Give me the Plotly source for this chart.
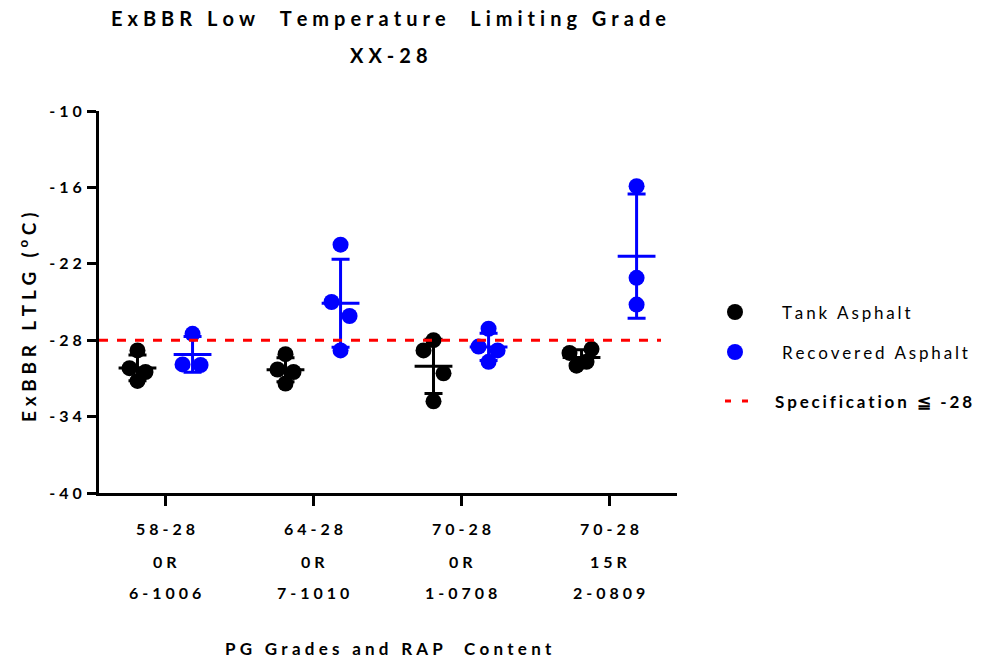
import numpy as np
import plotly.graph_objects as go

# ---------------- data ----------------
pg_grades = ["58-28", "64-28", "70-28", "70-28"]
rap_content = ["0R", "0R", "0R", "15R"]
sample_ids = ["6-1006", "7-1010", "1-0708", "2-0809"]

tank_values = [
    [-28.8, -30.2, -30.5, -31.2],
    [-29.1, -30.3, -30.5, -31.4],
    [-28.0, -28.8, -30.6, -32.8],
    [-29.0, -28.7, -30.0, -29.7],
]
recovered_values = [
    [-27.5, -29.9, -29.95],
    [-20.5, -25.0, -26.1, -28.8],
    [-27.1, -28.5, -28.8, -29.7],
    [-15.9, -23.1, -25.2],
]
spec_limit = -28
y_ticks = [-10, -16, -22, -28, -34, -40]

# ---------------- style / layout constants ----------------
FONT = "Lato"
BLUE = "#0000FF"
BLACK = "#000000"
RED = "#FF0000"
GROUP_PX = 148.0          # pixel distance between group centres
SIDE = 0.186              # column offset from group centre (group units)
# horizontal scatter-dot jitter, in pixels, per point (style only)
tank_jitter = [[0, -8, 8, 0], [0, -8, 8, 0], [0, -10, 10, 0], [-12, 10, -5, 5]]
rec_jitter = [[0, -10, 8], [0, -9, 9, 0], [0, -10, 9, 0], [0, 0, 0]]

SP4 = "\u2005"
SP6 = "\u2006"


def spaced(s, sp=SP4):
    return sp.join(list(s))


def points_xy(values, jitter, side):
    xs, ys = [], []
    for g, (vals, jit) in enumerate(zip(values, jitter)):
        for v, j in zip(vals, jit):
            xs.append(g + side + j / GROUP_PX)
            ys.append(v)
    return xs, ys


def mean_sd(values, side):
    xs = [g + side for g in range(len(values))]
    means = [float(np.mean(v)) for v in values]
    sds = [float(np.std(v, ddof=1)) for v in values]
    return xs, means, sds


fig = go.Figure()

# mean + SD bars
for values, side, color in [(tank_values, -SIDE, BLACK), (recovered_values, SIDE, BLUE)]:
    xs, means, sds = mean_sd(values, side)
    fig.add_trace(go.Scatter(
        x=xs, y=means, mode="markers", showlegend=False, hoverinfo="skip",
        marker=dict(symbol="line-ew", size=27, color=color,
                    line=dict(color=color, width=3)),
        error_y=dict(type="data", array=sds, symmetric=True,
                     thickness=3, width=9, color=color),
    ))

# individual points
for values, jitter, side, color, name in [
    (tank_values, tank_jitter, -SIDE, BLACK, "Tank Asphalt"),
    (recovered_values, rec_jitter, SIDE, BLUE, "Recovered Asphalt"),
]:
    xs, ys = points_xy(values, jitter, side)
    fig.add_trace(go.Scatter(
        x=xs, y=ys, mode="markers", name=name, showlegend=False,
        marker=dict(symbol="circle", size=16, color=color, line=dict(width=0)),
    ))

X_MIN, X_MAX = -0.446, 3.459
SPEC_END = 3.351
fig.add_trace(go.Scatter(
    x=[X_MIN, SPEC_END], y=[spec_limit, spec_limit], mode="lines",
    showlegend=False, hoverinfo="skip",
    line=dict(color=RED, width=3, dash="9px,9px"),
))

ann = []
# title
ann.append(dict(text=spaced("ExBBR Low  Temperature  Limiting Grade"),
                x=0.5, y=1, xref="paper", yref="paper", yshift=93,
                showarrow=False, xanchor="center", yanchor="middle",
                font=dict(family=FONT, size=20, color=BLACK, weight="bold")))
ann.append(dict(text=spaced("XX-28"),
                x=0.5, y=1, xref="paper", yref="paper", yshift=56,
                showarrow=False, xanchor="center", yanchor="middle",
                font=dict(family=FONT, size=20, color=BLACK, weight="bold")))
# category labels
for i in range(len(pg_grades)):
    for txt, dy in [(pg_grades[i], -35), (rap_content[i], -68), (sample_ids[i], -99)]:
        ann.append(dict(text=spaced(txt), x=i, y=0, xref="x", yref="paper",
                        yshift=dy, showarrow=False, xanchor="center", yanchor="middle",
                        font=dict(family=FONT, size=16, color=BLACK, weight="bold")))
# x title
ann.append(dict(text=spaced("PG Grades and RAP  Content"), x=0.5, y=0,
                xref="paper", yref="paper", yshift=-155, showarrow=False,
                xanchor="center", yanchor="middle",
                font=dict(family=FONT, size=17, color=BLACK, weight="bold")))
# y title
ann.append(dict(text=spaced("ExBBR LTLG (") + SP4 + "<sup>o</sup>" + SP4 + spaced("C)"),
                x=0, y=(493 - 318) / 382, xref="paper", yref="paper", xshift=-72,
                textangle=-90, showarrow=False, xanchor="center", yanchor="middle",
                font=dict(family=FONT, size=19, color=BLACK, weight="bold")))

# legend (drawn manually to match item spacing)
PLOT_L, PLOT_W, PLOT_B, PLOT_H = 99, 578, 493, 382


def px_x(px):
    return (px - PLOT_L) / PLOT_W


def px_y(py):
    return (PLOT_B - py) / PLOT_H


shapes = []
for cy, color in [(312, BLACK), (352, BLUE)]:
    shapes.append(dict(type="circle", xref="paper", yref="paper",
                       xsizemode="pixel", ysizemode="pixel",
                       xanchor=px_x(735), yanchor=px_y(cy),
                       x0=-8, x1=8, y0=-8, y1=8,
                       fillcolor=color, line=dict(width=0)))
shapes.append(dict(type="line", xref="paper", yref="paper",
                   x0=px_x(725), x1=px_x(748), y0=px_y(401), y1=px_y(401),
                   line=dict(color=RED, width=3, dash="6px,11px")))

for txt, cy, x0, bold, sp in [("Tank Asphalt", 312, 780, False, SP6),
                              ("Recovered Asphalt", 352, 780, False, SP6),
                              ("Specification \u2266 -28", 401, 773, True, SP6)]:
    ann.append(dict(text=spaced(txt, sp),
                    x=px_x(x0), y=px_y(cy), xref="paper", yref="paper",
                    showarrow=False, xanchor="left", yanchor="middle",
                    font=dict(family=FONT, size=17, color=BLACK,
                              weight="bold" if bold else "normal")))

fig.update_layout(
    width=985, height=661,
    margin=dict(l=99, r=985 - 677, t=111, b=661 - 493),
    paper_bgcolor="white", plot_bgcolor="white",
    showlegend=False,
    font=dict(family=FONT, color=BLACK),
    annotations=ann, shapes=shapes,
)
fig.update_xaxes(range=[X_MIN, X_MAX], tickvals=[0, 1, 2, 3], showticklabels=False,
                 ticks="outside", ticklen=10, tickwidth=3, tickcolor=BLACK,
                 showline=True, linewidth=3, linecolor=BLACK,
                 showgrid=False, zeroline=False)
fig.update_yaxes(range=[-40, -10], tickvals=y_ticks,
                 ticktext=[spaced(str(t)) for t in y_ticks],
                 ticks="outside", ticklen=9, tickwidth=3, tickcolor=BLACK,
                 tickfont=dict(family=FONT, size=16, color=BLACK, weight="bold"),
                 ticklabelstandoff=2,
                 showline=True, linewidth=3, linecolor=BLACK,
                 showgrid=False, zeroline=False)

fig.write_html("out.html")
